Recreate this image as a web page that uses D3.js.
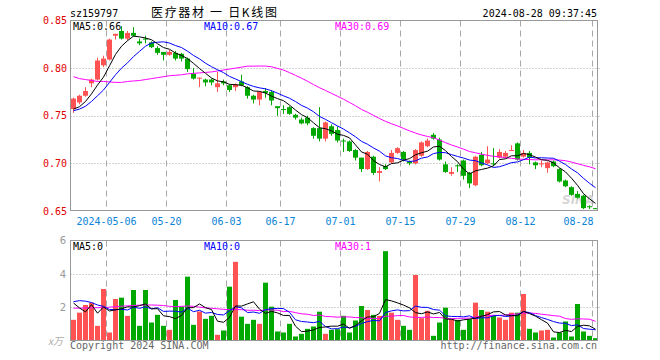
<!DOCTYPE html>
<html>
<head>
<meta charset="utf-8">
<script src="https://cdn.jsdelivr.net/npm/d3@7"></script>
<style>
  body { margin: 0; background: #fff; }
  svg text { font-family: "DejaVu Sans Mono", "Liberation Mono", monospace; }
</style>
</head>
<body>
<div id="chart"></div>
<script>
// trading days shown on the chart
var dates = [
  "2024-04-23","2024-04-24","2024-04-25","2024-04-26","2024-04-29","2024-04-30",
  "2024-05-06","2024-05-07","2024-05-08","2024-05-09","2024-05-10",
  "2024-05-13","2024-05-14","2024-05-15","2024-05-16","2024-05-17",
  "2024-05-20","2024-05-21","2024-05-22","2024-05-23","2024-05-24",
  "2024-05-27","2024-05-28","2024-05-29","2024-05-30","2024-05-31",
  "2024-06-03","2024-06-04","2024-06-05","2024-06-06","2024-06-07",
  "2024-06-11","2024-06-12","2024-06-13","2024-06-14",
  "2024-06-17","2024-06-18","2024-06-19","2024-06-20","2024-06-21",
  "2024-06-24","2024-06-25","2024-06-26","2024-06-27","2024-06-28",
  "2024-07-01","2024-07-02","2024-07-03","2024-07-04","2024-07-05",
  "2024-07-08","2024-07-09","2024-07-10","2024-07-11","2024-07-12",
  "2024-07-15","2024-07-16","2024-07-17","2024-07-18","2024-07-19",
  "2024-07-22","2024-07-23","2024-07-24","2024-07-25","2024-07-26",
  "2024-07-29","2024-07-30","2024-07-31","2024-08-01","2024-08-02",
  "2024-08-05","2024-08-06","2024-08-07","2024-08-08","2024-08-09",
  "2024-08-12","2024-08-13","2024-08-14","2024-08-15","2024-08-16",
  "2024-08-19","2024-08-20","2024-08-21","2024-08-22","2024-08-23",
  "2024-08-26","2024-08-27","2024-08-28"
];

var opens = [
  0.757,0.764,0.771,0.784,0.788,0.803,0.809,0.834,0.839,0.831,
  0.837,0.828,0.831,0.827,0.821,0.817,0.814,0.816,0.815,0.810,
  0.794,0.789,0.788,0.788,0.780,0.786,0.782,0.780,0.786,0.780,
  0.771,0.767,0.776,0.775,0.760,0.757,0.759,0.751,0.746,0.748,
  0.737,0.737,0.726,0.739,0.735,0.724,0.723,0.714,0.706,0.694,
  0.707,0.690,0.697,0.701,0.711,0.712,0.702,0.700,0.708,0.718,
  0.730,0.725,0.699,0.689,0.698,0.703,0.690,0.677,0.709,0.700,
  0.700,0.706,0.707,0.713,0.721,0.707,0.711,0.701,0.699,0.695,
  0.702,0.694,0.682,0.675,0.668,0.666,0.655,0.653
];
var highs = [
  0.769,0.772,0.780,0.789,0.811,0.813,0.831,0.836,0.844,0.839,
  0.843,0.831,0.834,0.828,0.823,0.817,0.819,0.818,0.816,0.811,
  0.800,0.790,0.789,0.789,0.796,0.788,0.783,0.784,0.793,0.781,
  0.772,0.776,0.779,0.777,0.760,0.761,0.760,0.752,0.748,0.750,
  0.738,0.759,0.744,0.741,0.739,0.726,0.724,0.715,0.706,0.713,
  0.708,0.696,0.699,0.714,0.717,0.713,0.703,0.715,0.723,0.726,
  0.732,0.727,0.702,0.696,0.699,0.704,0.691,0.708,0.712,0.718,
  0.716,0.715,0.713,0.719,0.722,0.714,0.713,0.702,0.703,0.702,
  0.703,0.695,0.683,0.676,0.671,0.667,0.656,0.653
];
var lows = [
  0.753,0.762,0.770,0.780,0.787,0.801,0.808,0.830,0.830,0.829,
  0.833,0.824,0.826,0.821,0.814,0.808,0.813,0.808,0.807,0.796,
  0.788,0.780,0.781,0.782,0.775,0.782,0.775,0.776,0.781,0.768,
  0.763,0.761,0.769,0.761,0.750,0.752,0.751,0.746,0.741,0.740,
  0.726,0.723,0.723,0.729,0.722,0.712,0.712,0.703,0.691,0.693,
  0.688,0.681,0.693,0.700,0.710,0.702,0.698,0.699,0.707,0.717,
  0.725,0.703,0.690,0.687,0.691,0.683,0.674,0.676,0.697,0.699,
  0.697,0.705,0.705,0.713,0.703,0.706,0.699,0.694,0.696,0.690,
  0.696,0.680,0.675,0.666,0.663,0.652,0.652,0.652
];
var closes = [
  0.768,0.771,0.776,0.788,0.808,0.810,0.830,0.836,0.831,0.837,
  0.834,0.826,0.830,0.822,0.816,0.814,0.817,0.810,0.810,0.799,
  0.789,0.790,0.785,0.785,0.784,0.784,0.777,0.783,0.782,0.771,
  0.767,0.775,0.774,0.766,0.758,0.756,0.752,0.748,0.742,0.742,
  0.729,0.726,0.743,0.731,0.724,0.723,0.713,0.706,0.694,0.712,
  0.690,0.692,0.694,0.711,0.716,0.704,0.700,0.714,0.722,0.724,
  0.726,0.704,0.691,0.691,0.697,0.687,0.679,0.707,0.698,0.704,
  0.699,0.712,0.711,0.714,0.704,0.711,0.706,0.698,0.700,0.701,
  0.697,0.681,0.676,0.667,0.664,0.653,0.654,0.652
];
// volume, unit 万
var volumes = [
  1.24,1.67,2.13,2.27,0.88,3.09,0.48,2.49,2.57,1.48,
  3.03,0.88,3.03,1.08,1.54,0.88,0.64,2.43,2.03,3.83,
  0.94,1.74,1.30,1.48,0.34,0.60,3.23,4.72,1.43,1.00,
  1.24,1.00,3.47,2.03,0.54,0.48,1.00,0.24,0.40,0.70,
  0.84,1.73,0.40,0.64,0.68,1.48,0.48,1.20,2.07,1.83,
  1.54,1.48,5.36,1.67,1.24,0.88,0.64,3.93,1.34,1.78,
  0.28,1.08,1.97,1.28,1.24,0.64,1.28,2.27,1.83,1.73,
  1.48,1.38,1.24,1.67,1.67,2.79,0.70,0.48,0.60,0.64,
  0.18,0.48,1.14,0.24,2.19,0.54,0.28,0.14
];

// moving-average values at the left edge (their window reaches before the first day shown)
var priceMa5Head = [0.757,0.7595,0.765,0.773];
var priceMa10Head = [0.7553,0.757,0.760,0.765,0.771,0.777,0.785,0.793,0.800];
var priceMa30Head = [0.791,0.789,0.788,0.787,0.786,0.786,0.7855,0.785,0.785,0.786,
  0.7865,0.787,0.788,0.789,0.790,0.791,0.792,0.7925,0.793,0.794,
  0.7945,0.795,0.7955,0.796,0.797,0.798,0.799,0.800,0.801];
var volMa5Head = [2.25,1.95,1.72,2.15];
var volMa10Head = [2.33,2.39,2.36,2.28,2.13,2.05,1.86,1.85,1.87];
var volMa30Head = [1.94,1.94,1.95,1.96,1.97,1.98,2.00,2.03,2.06,2.08,
  2.10,2.12,2.13,2.13,2.12,2.10,2.05,2.03,2.05,2.07,
  2.05,2.00,1.96,1.93,1.90,1.87,1.85,1.86,1.85];

var priceTicks = [0.85, 0.80, 0.75, 0.70, 0.65];
var priceGrid = [0.80, 0.75, 0.70];
var volTicks = [6, 4, 2];
var volGrid = [4, 2];
var tickDates = ["2024-05-06","2024-05-20","2024-06-03","2024-06-17","2024-07-01",
  "2024-07-15","2024-07-29","2024-08-12","2024-08-28"];
var tickLabels = ["2024-05-06","05-20","06-03","06-17","07-01","07-15","07-29","08-12","08-28"];

var priceMaLabels = ["MA5:0.66", "MA10:0.67", "MA30:0.69"];
var volMaLabels = ["MA5:0", "MA10:0", "MA30:1"];
var maColors = ["#000000", "#0000ff", "#ff00ff"];

function movingAvg(values, n, head) {
  return values.map(function (v, i) {
    if (i < n - 1) return head[i];
    return d3.mean(values.slice(i - n + 1, i + 1));
  });
}

var upColor = "#ff5353", downColor = "#00a800";
var gridColor = "#a8a8a8", frameColor = "#999";

var svg = d3.select("#chart").append("svg")
  .attr("width", 660)
  .attr("height", 360);

var left = 70.5, right = 597.5;
var pTop = 20.5, pBottom = 210.5;
var vTop = 240.5, vBottom = 340.5;

var x = d3.scaleBand()
  .domain(dates)
  .range([70.5, 598.5])
  .paddingInner(1 / 6)
  .paddingOuter(1 / 12);
var bw = x.bandwidth();

var yP = d3.scaleLinear().domain([0.65, 0.85]).range([211, 20.5]);
var yV = d3.scaleLinear().domain([0, 6]).range([vBottom, vTop]);

function crisp(v) { return Math.round(v) + 0.5; }

// ---- top texts
svg.append("text").attr("x", 70).attr("y", 16.5)
  .attr("font-size", "10px").attr("fill", "#000").text("sz159797");
svg.append("text").attr("x", 151).attr("y", 17)
  .attr("font-size", "12px").attr("fill", "#000")
  .attr("textLength", 126).attr("lengthAdjust", "spacing")
  .style("font-family", '"Noto Sans CJK SC", sans-serif')
  .text("医疗器材 一 日K线图");
svg.append("text").attr("x", 597).attr("y", 16.5)
  .attr("text-anchor", "end").attr("font-size", "10px").attr("fill", "#000")
  .text("2024-08-28 09:37:45");

// ---- watermark
svg.append("text").attr("x", 562).attr("y", 204)
  .attr("font-size", "12px").attr("font-weight", "bold").attr("font-style", "italic")
  .attr("fill", "#d6d6d6").style("font-family", "'DejaVu Sans', sans-serif")
  .text("SINA");

// ---- grids
function hGrid(vals, scale) {
  svg.append("g").selectAll("line").data(vals).enter().append("line")
    .attr("x1", left).attr("x2", right + 3)
    .attr("y1", function (d) { return crisp(scale(d)); })
    .attr("y2", function (d) { return crisp(scale(d)); })
    .attr("stroke", gridColor).attr("stroke-dasharray", "1,2");
}
hGrid(priceGrid, yP);
hGrid(volGrid, yV);

function vGrid(y1, y2) {
  svg.append("g").selectAll("line").data(tickDates).enter().append("line")
    .attr("x1", function (d) { return x(d) - 0.5; })
    .attr("x2", function (d) { return x(d) - 0.5; })
    .attr("y1", y1).attr("y2", y2)
    .attr("stroke", gridColor).attr("stroke-dasharray", "6,4");
}
vGrid(pTop, pBottom);
vGrid(vTop, vBottom);

// ---- candles
var candles = svg.append("g").selectAll("g").data(dates).enter().append("g");
candles.append("line")
  .attr("x1", function (d) { return x(d) + 2.5; })
  .attr("x2", function (d) { return x(d) + 2.5; })
  .attr("y1", function (d, i) { return yP(highs[i]); })
  .attr("y2", function (d, i) { return yP(lows[i]); })
  .attr("stroke", function (d, i) { return closes[i] >= opens[i] ? upColor : downColor; });
candles.append("rect")
  .attr("x", function (d) { return x(d); })
  .attr("width", bw)
  .attr("y", function (d, i) { return yP(Math.max(opens[i], closes[i])); })
  .attr("height", function (d, i) {
    return Math.max(1, Math.abs(yP(opens[i]) - yP(closes[i])));
  })
  .attr("fill", function (d, i) { return closes[i] >= opens[i] ? upColor : downColor; });

// ---- volume bars
svg.append("g").selectAll("rect").data(dates).enter().append("rect")
  .attr("x", function (d) { return x(d); })
  .attr("width", bw)
  .attr("y", function (d, i) { return yV(volumes[i]); })
  .attr("height", function (d, i) { return yV(0) - yV(volumes[i]); })
  .attr("fill", function (d, i) { return closes[i] >= opens[i] ? upColor : downColor; });

// ---- moving averages
var priceMas = [
  movingAvg(closes, 5, priceMa5Head),
  movingAvg(closes, 10, priceMa10Head),
  movingAvg(closes, 30, priceMa30Head)
];
var volMas = [
  movingAvg(volumes, 5, volMa5Head),
  movingAvg(volumes, 10, volMa10Head),
  movingAvg(volumes, 30, volMa30Head)
];

function drawLine(vals, scale, color) {
  var line = d3.line()
    .x(function (d, i) { return x(dates[i]) + 2.5; })
    .y(function (d) { return scale(d); });
  svg.append("path")
    .attr("d", line(vals))
    .attr("fill", "none")
    .attr("stroke", color)
    .attr("stroke-width", 1);
}
[2, 1, 0].forEach(function (k) {
  drawLine(priceMas[k], yP, maColors[k]);
  drawLine(volMas[k], yV, maColors[k]);
});

// ---- frames
function frame(y1, y2) {
  svg.append("rect")
    .attr("x", left).attr("y", y1)
    .attr("width", right - left).attr("height", y2 - y1)
    .attr("fill", "none").attr("stroke", frameColor);
}
frame(pTop, pBottom);
frame(vTop, vBottom);

// ---- axes labels
var yAxisP = svg.append("g")
  .attr("transform", "translate(67,0)")
  .call(d3.axisLeft(yP).tickValues(priceTicks).tickSize(0).tickPadding(0).tickFormat(d3.format(".2f")));
yAxisP.select(".domain").remove();
yAxisP.selectAll("text")
  .attr("fill", "#e00000").attr("font-size", "10px")
  .style("font-family", '"DejaVu Sans Mono", monospace');

var yAxisV = svg.append("g")
  .attr("transform", "translate(66,0)")
  .call(d3.axisLeft(yV).tickValues(volTicks).tickSize(0).tickPadding(0).tickFormat(d3.format("d")));
yAxisV.select(".domain").remove();
yAxisV.selectAll("text")
  .attr("fill", "#999").attr("font-size", "10px")
  .style("font-family", '"DejaVu Sans", sans-serif');

svg.append("text").attr("x", 63).attr("y", 345)
  .attr("text-anchor", "end").attr("font-size", "10px")
  .attr("font-style", "italic").attr("fill", "#aaa")
  .style("font-family", '"Noto Sans CJK SC", sans-serif')
  .text("x万");

svg.append("g").selectAll("text").data(tickDates).enter().append("text")
  .attr("x", function (d, i) { return i === tickDates.length - 1 ? x(d) + 0.5 : x(d) - 0.5; })
  .attr("y", 224.5)
  .attr("text-anchor", function (d, i) { return i === tickDates.length - 1 ? "end" : "middle"; })
  .attr("font-size", "10px")
  .attr("fill", "#0a84d6")
  .text(function (d, i) { return tickLabels[i]; });

// ---- MA legends
var legendX = [73, 204, 335];
priceMaLabels.forEach(function (t, k) {
  svg.append("text").attr("x", legendX[k]).attr("y", 29.5)
    .attr("font-size", "10px").attr("fill", maColors[k]).text(t);
});
volMaLabels.forEach(function (t, k) {
  svg.append("text").attr("x", legendX[k]).attr("y", 249.5)
    .attr("font-size", "10px").attr("fill", maColors[k]).text(t);
});

// ---- footer
svg.append("text").attr("x", 70).attr("y", 349)
  .attr("font-size", "10px").attr("fill", "#666").text("Copyright 2024 SINA.COM");
svg.append("text").attr("x", 597).attr("y", 349)
  .attr("text-anchor", "end").attr("font-size", "10px").attr("fill", "#666")
  .text("http://finance.sina.com.cn");
</script>
</body>
</html>
